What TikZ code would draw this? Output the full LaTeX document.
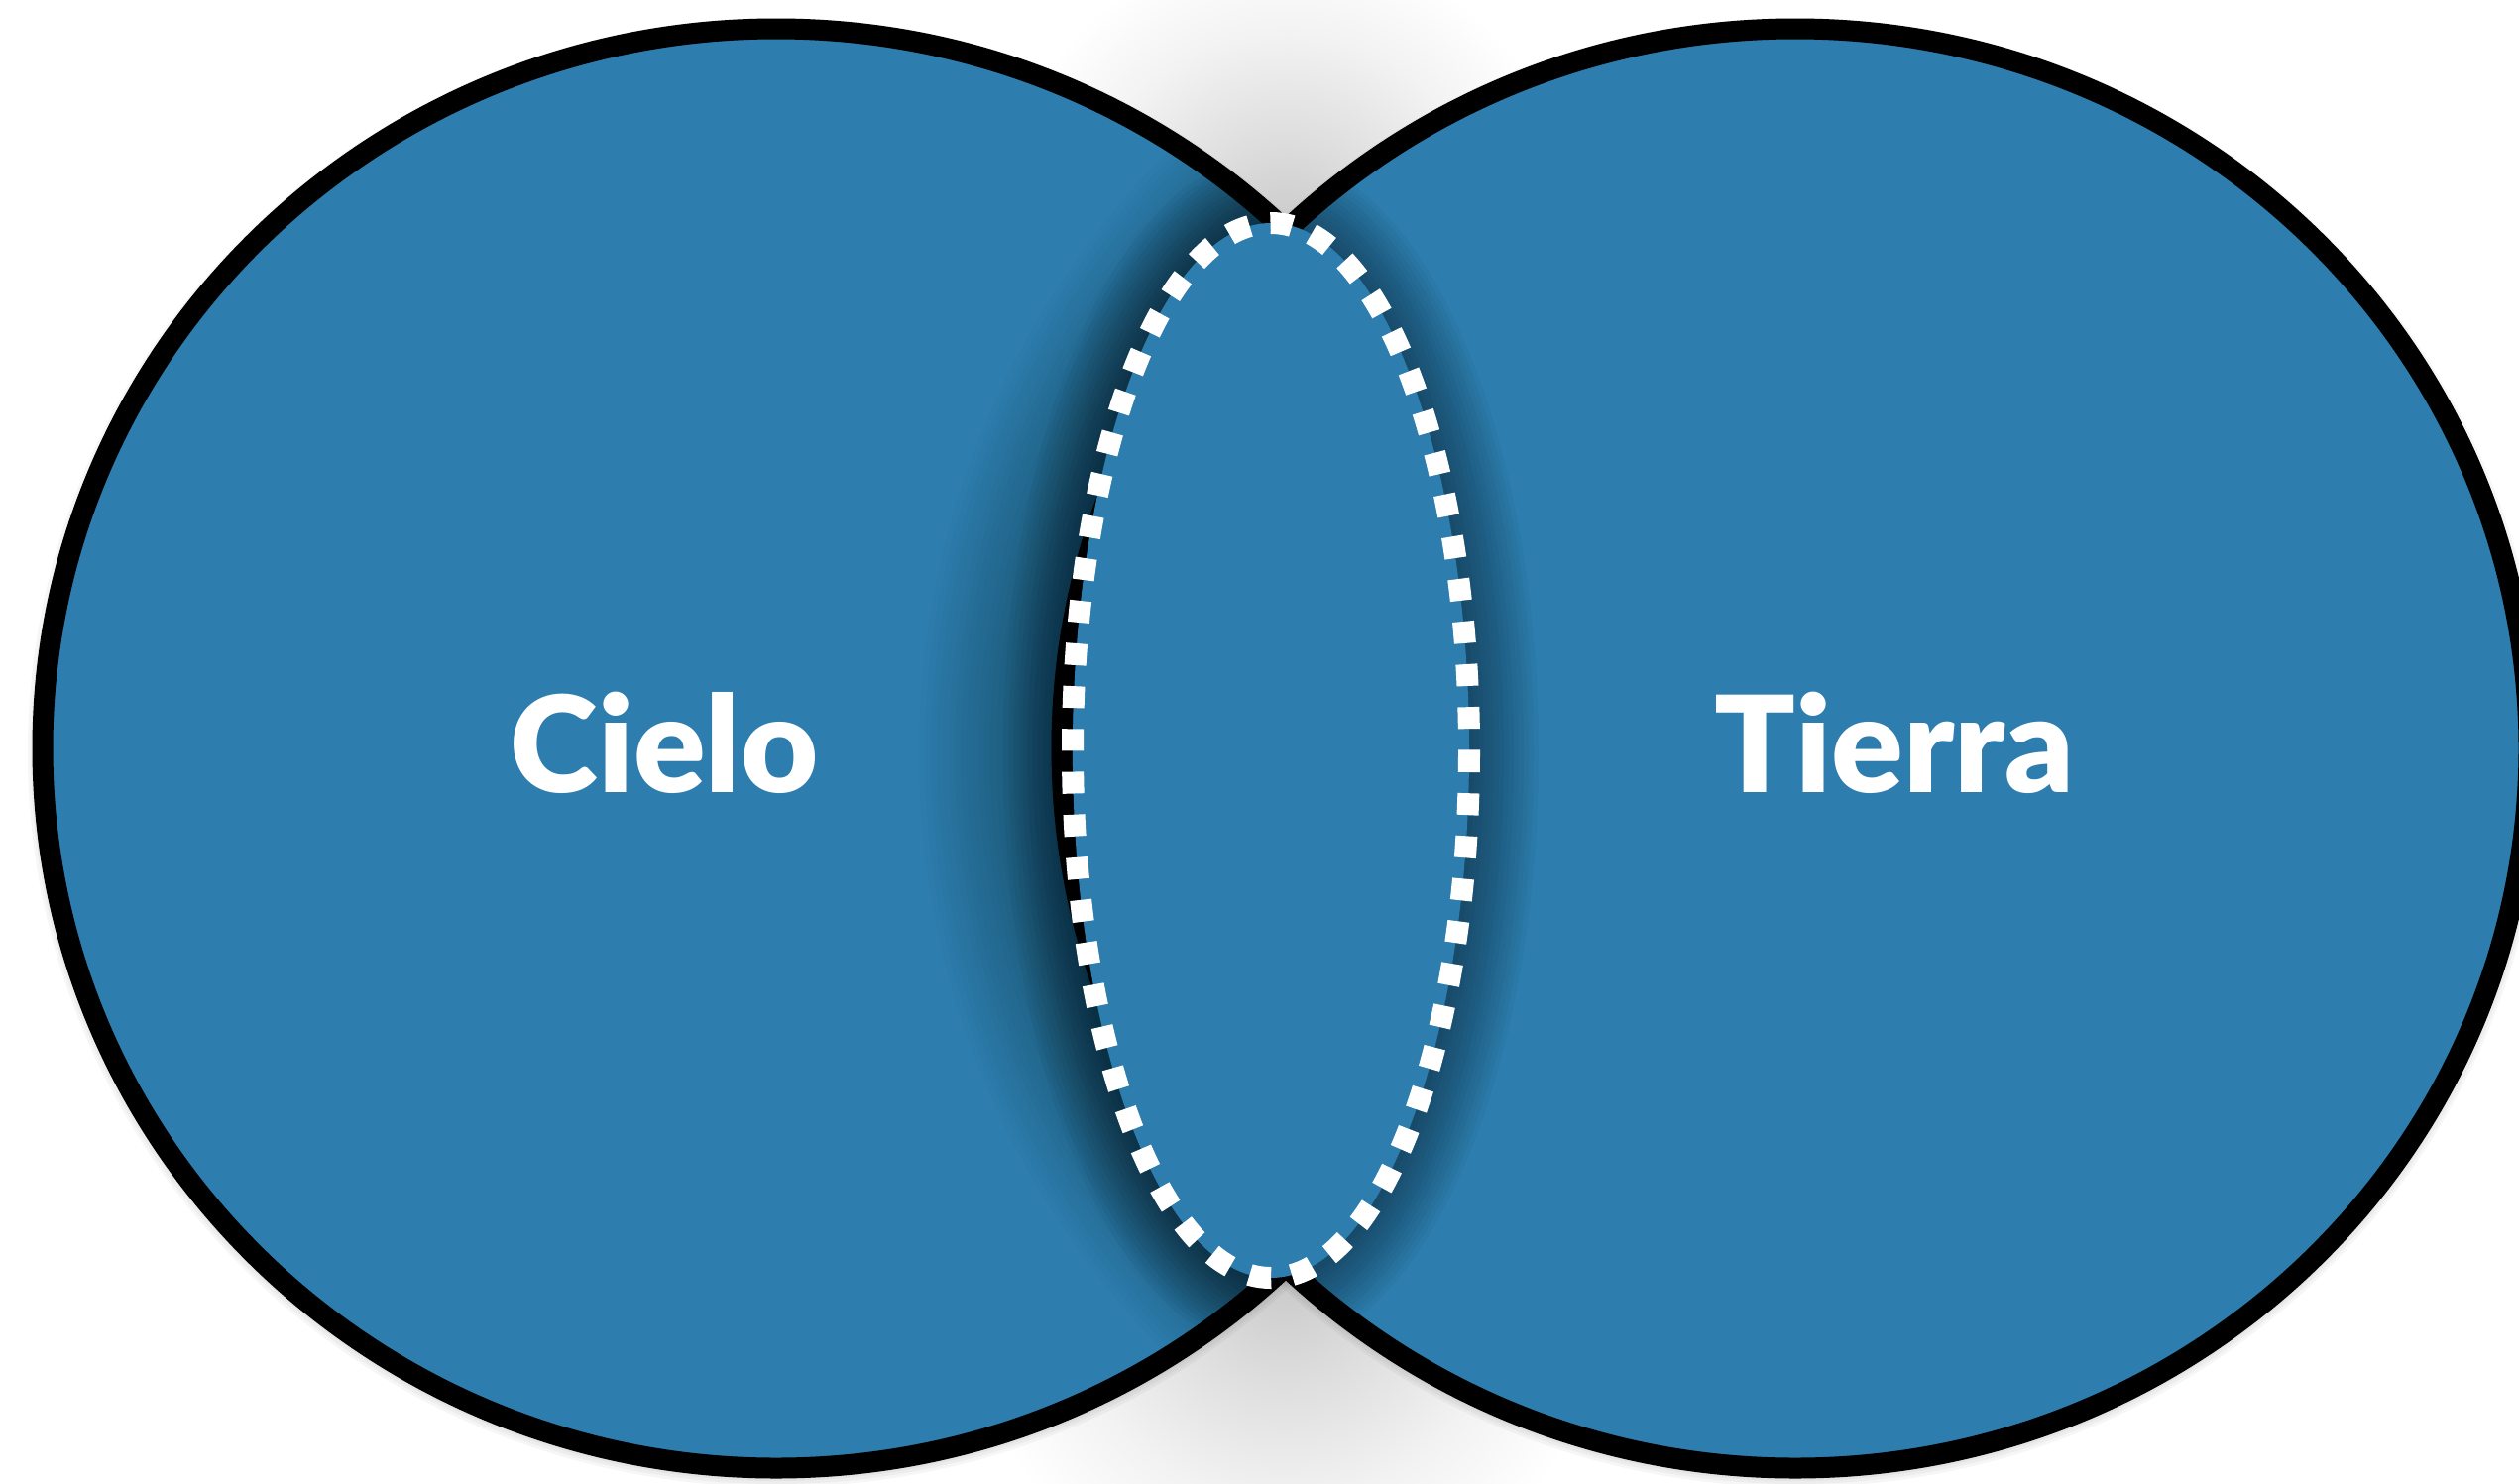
\documentclass[tikz,border=0pt]{standalone}
\usepackage{fontspec}
\newfontfamily\labfont{Lato Black}
\definecolor{venn}{HTML}{2D7DAE}
\pgfdeclareradialshading{notchshade}{\pgfpoint{0bp}{0bp}}{color(0bp)=(black!21); color(8bp)=(black!13); color(17bp)=(black!5); color(25bp)=(white); color(50bp)=(white)}
\begin{document}
\begin{tikzpicture}[x=0.3pt,y=-0.3pt,
  circ/.style={fill=venn, draw=black, line width=6.3pt},
  shade layer/.style={fill=black, opacity=#1},
  notch/.style={shading=notchshade},
  lensfill/.style={fill=venn},
  lensdash/.style={draw=white, line width=6.6pt, dash pattern=on 6.6pt off 6.36pt},
  lbl/.style={text=white, font=\labfont\fontsize{40.5}{40.5}\selectfont, inner sep=0pt, anchor=base}]
\useasboundingbox (0,0) rectangle (2541,1496);
\fill[white] (0,0) rectangle (2541,1496);
\begin{scope}
  \clip (0,0) rectangle (2541,1496);
  % soft grey in the two notches between the circles
  \path[notch] (1297,232) circle [radius=290];
  \path[notch] (1297,1290) circle [radius=330];
  % thin halo round both circles
  \foreach \k in {1,...,5} {
    \fill[shade layer=0.035] (783,759) ellipse [x radius={740+3*\k}, y radius={726+3*\k}];
    \fill[shade layer=0.035] (1811,759) ellipse [x radius={740+3*\k}, y radius={726+3*\k}];
  }
  % left circle
  \path[circ] (783,755) ellipse [x radius=740, y radius=726];
  % shadow of the right circle, falling on the left circle only
  \begin{scope}
    \clip (783,755) ellipse [x radius=735, y radius=721];
    \foreach \k in {1,...,24}
      \fill[shade layer=0.015] (1811,760) ellipse [x radius={740+6*\k}, y radius={726+6*\k}];
  \end{scope}
  % right circle
  \path[circ] (1811,755) ellipse [x radius=740, y radius=726];
  % shadow of the lens, on the circles only
  \begin{scope}
    \clip (783,755) ellipse [x radius=743, y radius=729] (1811,755) ellipse [x radius=743, y radius=729];
    \foreach \k in {1,...,14}
      \fill[shade layer=0.03] (1282,760) ellipse [x radius={200+5*\k}, y radius={532+5*\k}];
  \end{scope}
  % lens
  \path[lensfill] (1282,757) ellipse [x radius=200, y radius=532];
  \path[lensdash] (1282,757) ellipse [x radius=200, y radius=532];
\end{scope}
\node[lbl] (cielo) at (670,799) {Cielo};
\node[lbl] (tierra) at (1911,799) {Tierra};
\end{tikzpicture}
\end{document}
